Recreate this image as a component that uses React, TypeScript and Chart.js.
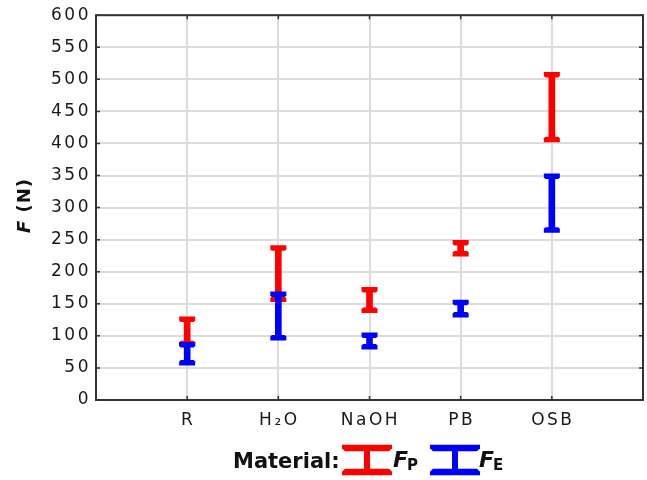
import React, { useEffect, useRef } from 'react';
import { Chart, registerables } from 'chart.js';

Chart.register(...registerables);

// ---- data ----
const categories: string[] = ['R', 'H₂O', 'NaOH', 'PB', 'OSB'];
const fpLow: number[] = [88, 157, 140, 228, 406];
const fpHigh: number[] = [126, 237, 172, 245, 507];
const feLow: number[] = [58, 97, 83, 133, 265];
const feHigh: number[] = [86, 165, 101, 152, 349];
const yMin = 0;
const yMax = 600;
const yStep = 50;
const legendTitle = 'Material:';
const seriesMain: string[] = ['F', 'F'];
const seriesSub: string[] = ['P', 'E'];
const axisTitleMain = 'F';
const axisTitleRest = ' (N)';

// ---- styles ----
const RED = '#ff0000';
const BLUE = '#0000ff';
const FONT = '"DejaVu Sans", "Liberation Sans", Arial, sans-serif';
const TEXT = '#1a1a1a';
const GRID = '#dcdcdc';
const FRAME = '#333333';

function drawCap(ctx: CanvasRenderingContext2D, x: number, y: number, w: number, h: number, dir: number, bevel: number, color: string) {
  const outer = y - dir * h / 2;
  const inner = y + dir * h / 2;
  ctx.beginPath();
  ctx.moveTo(x - w / 2, outer);
  ctx.lineTo(x + w / 2, outer);
  ctx.lineTo(x + w / 2, inner - dir * bevel);
  ctx.lineTo(x + w / 2 - bevel, inner);
  ctx.lineTo(x - w / 2 + bevel, inner);
  ctx.lineTo(x - w / 2, inner - dir * bevel);
  ctx.closePath();
  ctx.fillStyle = color;
  ctx.fill();
}

const capsPlugin = {
  id: 'caps',
  afterDatasetDraw(chart: any, args: any) {
    const ctx: CanvasRenderingContext2D = chart.ctx;
    const ds = chart.data.datasets[args.index];
    const yS = chart.scales.y;
    ctx.save();
    args.meta.data.forEach((bar: any, i: number) => {
      const v = ds.data[i].y as number[];
      const x = bar.x;
      drawCap(ctx, x, yS.getPixelForValue(v[1]), 16, 5.5, 1, 1.5, ds.backgroundColor);
      drawCap(ctx, x, yS.getPixelForValue(v[0]), 16, 5.5, -1, 1.5, ds.backgroundColor);
    });
    ctx.restore();
  },
};

const decorPlugin = {
  id: 'decor',
  beforeDraw(chart: any) {
    const ctx: CanvasRenderingContext2D = chart.ctx;
    ctx.save();
    ctx.fillStyle = '#ffffff';
    ctx.fillRect(0, 0, chart.width, chart.height);
    ctx.restore();
    (ctx as any).letterSpacing = '2.5px';
  },
  afterDraw(chart: any) {
    const ctx: CanvasRenderingContext2D = chart.ctx;
    const a = chart.chartArea;
    const xS = chart.scales.x;
    const yS = chart.scales.y;
    ctx.save();
    (ctx as any).letterSpacing = '0px';
    // frame
    ctx.strokeStyle = FRAME;
    ctx.lineWidth = 2;
    ctx.strokeRect(a.left, a.top, a.right - a.left, a.bottom - a.top);
    // inward tick marks
    ctx.lineWidth = 1.5;
    ctx.beginPath();
    for (let v = yMin; v <= yMax; v += yStep) {
      const y = yS.getPixelForValue(v);
      ctx.moveTo(a.left, y); ctx.lineTo(a.left + 4, y);
      ctx.moveTo(a.right, y); ctx.lineTo(a.right - 4, y);
    }
    categories.forEach((_, i) => {
      const x = xS.getPixelForValue(i + 1);
      ctx.moveTo(x, a.top); ctx.lineTo(x, a.top + 4);
      ctx.moveTo(x, a.bottom); ctx.lineTo(x, a.bottom - 4);
    });
    ctx.stroke();

    // y-axis title
    ctx.save();
    ctx.translate(30, 205.5);
    ctx.rotate(-Math.PI / 2);
    (ctx as any).letterSpacing = '1px';
    ctx.fillStyle = '#111';
    ctx.textBaseline = 'alphabetic';
    ctx.textAlign = 'left';
    ctx.font = `italic bold 18px ${FONT}`;
    const w1 = ctx.measureText(axisTitleMain).width;
    ctx.font = `bold 18px ${FONT}`;
    const w2 = ctx.measureText(axisTitleRest).width;
    const start = -(w1 + w2) / 2;
    ctx.font = `italic bold 18px ${FONT}`;
    ctx.fillText(axisTitleMain, start, 0);
    ctx.font = `bold 18px ${FONT}`;
    ctx.fillText(axisTitleRest, start + w1, 0);
    ctx.restore();

    // legend
    ctx.fillStyle = '#111';
    ctx.textBaseline = 'alphabetic';
    ctx.textAlign = 'left';
    ctx.font = `bold 21px ${FONT}`;
    ctx.fillText(legendTitle, 233, 468);
    const icons = [
      { cx: 367, color: RED, tx: 393 },
      { cx: 455, color: BLUE, tx: 479 },
    ];
    icons.forEach((ic, k) => {
      const w = 50;
      drawCap(ctx, ic.cx, 448, w, 6.5, 1, 3, ic.color);
      drawCap(ctx, ic.cx, 472, w, 6.5, -1, 3, ic.color);
      ctx.fillStyle = ic.color;
      ctx.fillRect(ic.cx - 3, 450, 6, 20);
      ctx.fillStyle = '#111';
      ctx.font = `italic bold 22px ${FONT}`;
      ctx.fillText(seriesMain[k], ic.tx, 467);
      const fw = ctx.measureText(seriesMain[k]).width;
      ctx.font = `bold 15px ${FONT}`;
      ctx.fillText(seriesSub[k], ic.tx + fw - 1, 470);
    });
    ctx.restore();
  },
};

export default function App() {
  const ref = useRef<HTMLCanvasElement>(null);
  useEffect(() => {
    document.body.style.margin = '0';
    const mk = (lo: number[], hi: number[]) => categories.map((_, i) => ({ x: i + 1, y: [lo[i], hi[i]] }));
    const chart = new Chart(ref.current as HTMLCanvasElement, {
      type: 'bar',
      data: {
        datasets: [
          { label: 'FP', data: mk(fpLow, fpHigh) as any, backgroundColor: RED, barThickness: 6, borderWidth: 0, order: 1, grouped: false } as any,
          { label: 'FE', data: mk(feLow, feHigh) as any, backgroundColor: BLUE, barThickness: 6, borderWidth: 0, order: 0, grouped: false } as any,
        ],
      },
      options: {
        animation: false,
        responsive: true,
        maintainAspectRatio: false,
        layout: { padding: { left: 0, right: 4, top: 15, bottom: 0 } },
        plugins: { legend: { display: false }, tooltip: { enabled: false } },
        scales: {
          x: {
            type: 'linear',
            min: 0,
            max: categories.length + 1,
            offset: false,
            grid: { color: GRID, lineWidth: 2, drawTicks: false, offset: false },
            border: { display: false },
            ticks: {
              stepSize: 1,
              autoSkip: false,
              maxRotation: 0,
              padding: 10,
              labelOffset: 1,
              color: TEXT,
              font: { family: FONT, size: 17 },
              callback: (v: any) => categories[Number(v) - 1] ?? '',
            },
            afterFit: (s: any) => { s.height = 80; s.paddingLeft = 0; s.paddingRight = 0; },
          },
          y: {
            min: yMin,
            max: yMax,
            grid: { color: GRID, lineWidth: 2, drawTicks: false },
            border: { display: false },
            ticks: {
              stepSize: yStep,
              padding: 5,
              color: TEXT,
              font: { family: FONT, size: 17 },
            },
            afterFit: (s: any) => { s.width = 96; },
          },
        },
      },
      plugins: [capsPlugin, decorPlugin],
    } as any);
    return () => chart.destroy();
  }, []);
  return (
    <div style={{ position: 'relative', width: 647, height: 480 }}>
      <canvas ref={ref} />
    </div>
  );
}
